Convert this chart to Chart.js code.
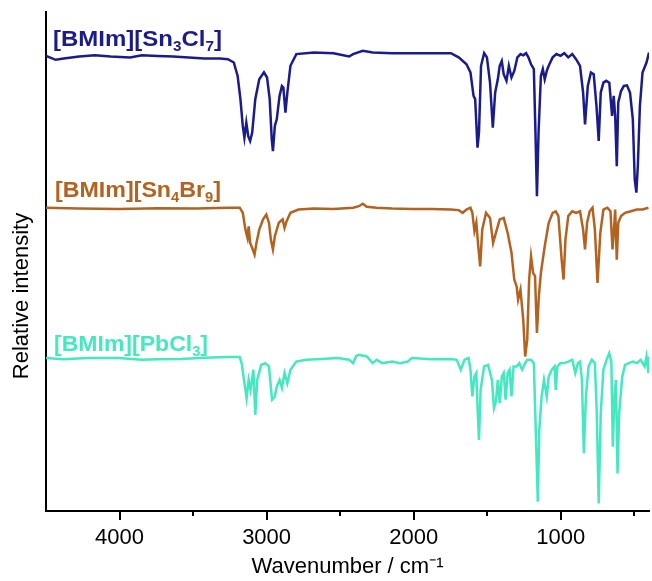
<!DOCTYPE html>
<html lang="en">
<head>
<meta charset="UTF-8">
<title>IR spectra</title>
<script src="https://cdn.jsdelivr.net/npm/chart.js"></script>
<style>
  body { margin: 0; background: #fff; }
  canvas { display: block; }
</style>
</head>
<body>
<canvas id="irChart" width="652" height="581"></canvas>
<script>
// wavenumbers (cm-1) and relative intensities (traces are offset)
const sn3cl7Wn = [4500,4434,4380,4274,4168,4061,3928,3848,3742,3636,3529,3423,3316,3263,3223,3197,3178,3162,3151,3138,3125,3112,3098,3077,3050,3018,2997,2979,2965,2957,2944,2931,2912,2896,2886,2872,2859,2838,2798,2678,2545,2439,2412,2346,2279,2146,2013,1880,1747,1694,1641,1614,1593,1582,1566,1556,1542,1521,1502,1481,1462,1446,1428,1415,1401,1388,1369,1353,1335,1316,1295,1273,1255,1236,1220,1202,1183,1172,1162,1151,1135,1122,1109,1095,1082,1055,1029,1002,976,949,922,896,869,848,835,816,795,776,757,742,728,710,691,670,651,640,630,619,609,590,571,550,529,510,497,486,476,462,444,417,400];
const sn3cl7I = [151.4,150.1,150.5,151.2,151.6,151.2,150.9,151.6,151.4,151.2,150.9,150.5,150.5,150.3,149.2,144.7,137.0,128.1,124.2,129.2,124.7,123.1,125.9,137.0,143.6,145.9,144.2,137.0,123.6,119.7,128.1,130.3,138.1,141.4,140.9,132.5,139.2,148.1,152.0,152.5,152.3,151.2,152.0,153.1,152.5,152.3,152.3,152.3,152.3,150.9,148.6,145.9,138.1,137.0,120.9,125.9,148.1,152.3,150.9,142.5,127.5,139.2,143.6,148.1,149.7,145.3,143.1,148.1,144.2,146.4,150.9,152.0,151.6,152.3,150.9,148.6,147.0,125.9,104.7,125.9,144.7,147.0,143.6,146.4,148.1,150.9,152.0,151.4,152.3,150.9,152.0,150.3,148.1,139.2,128.6,141.4,145.9,145.3,134.7,123.1,139.2,142.5,143.1,142.5,131.4,138.1,131.4,114.7,135.9,139.7,141.4,141.6,139.2,130.3,110.3,105.9,114.7,134.7,145.9,149.2,152.5];

const sn4br9Wn = [4500,4274,4008,3742,3476,3263,3183,3162,3144,3130,3122,3112,3098,3082,3069,3050,3024,3002,2984,2971,2957,2944,2917,2891,2878,2864,2838,2784,2678,2545,2412,2372,2346,2319,2252,2146,2013,1880,1747,1694,1667,1641,1614,1601,1587,1574,1561,1548,1534,1508,1481,1460,1441,1415,1388,1361,1335,1316,1300,1290,1274,1255,1242,1228,1215,1202,1188,1175,1162,1149,1135,1109,1082,1055,1034,1016,994,981,968,949,922,896,869,848,835,821,803,784,768,750,731,710,683,662,648,638,630,619,609,590,563,523,483,444,404];
const sn4br9I = [100.9,100.6,100.5,100.7,100.6,100.9,100.9,99.2,93.6,90.9,94.7,89.2,87.5,85.3,89.2,93.6,97.0,98.6,95.9,90.3,87.0,91.4,95.9,97.0,94.2,96.4,99.2,100.3,100.6,100.5,100.9,101.4,102.2,101.2,100.9,100.6,100.5,100.5,100.3,100.1,99.2,100.3,100.9,99.2,93.1,95.9,88.1,81.4,93.6,99.2,97.5,89.2,92.5,97.0,97.5,92.5,85.9,77.0,74.7,70.3,73.6,63.6,51.4,57.0,77.0,84.7,79.2,78.1,59.2,71.4,79.2,88.1,95.9,99.2,99.7,98.1,83.6,77.0,90.3,98.1,99.7,99.2,99.7,93.6,87.0,95.9,99.7,100.9,93.6,75.9,92.5,100.3,100.9,99.7,87.0,93.6,100.3,83.6,95.9,98.1,99.2,99.7,100.3,100.3,100.9];

const pbcl3Wn = [4500,4380,4221,4008,3848,3742,3582,3423,3263,3183,3170,3157,3144,3136,3122,3109,3090,3077,3064,3037,3011,2984,2963,2944,2931,2912,2896,2878,2859,2838,2798,2731,2625,2518,2439,2412,2391,2372,2319,2279,2252,2213,2173,2146,2093,2040,2013,1880,1747,1707,1680,1654,1627,1614,1601,1587,1574,1566,1556,1545,1521,1494,1468,1454,1441,1428,1415,1401,1388,1375,1361,1348,1335,1321,1300,1282,1263,1242,1228,1202,1183,1170,1156,1146,1130,1114,1095,1082,1061,1042,1034,1023,1002,976,949,922,901,883,869,856,843,829,811,789,768,755,742,728,710,688,670,656,646,635,625,614,603,582,563,537,510,483,457,430,417,404,400];
const pbcl3I = [50.9,50.5,50.9,50.9,50.3,50.5,50.6,51.0,51.2,51.2,49.2,44.7,40.3,37.5,43.6,40.3,47.0,32.0,43.6,48.6,49.2,48.1,37.0,38.1,41.4,43.6,40.9,45.9,42.5,47.0,49.7,50.3,50.6,50.9,50.3,49.2,51.6,52.0,51.4,49.2,50.3,49.2,49.5,49.7,49.2,49.7,50.9,50.5,50.6,50.3,47.0,50.3,50.9,47.0,38.1,44.7,45.9,34.7,23.6,40.3,48.1,48.6,43.6,34.2,36.4,43.6,35.9,44.7,45.9,37.0,45.9,47.0,38.1,48.1,48.1,49.2,47.0,49.2,50.3,50.3,49.2,27.0,3.1,27.0,38.1,43.6,38.1,44.7,47.0,48.1,40.3,48.1,49.2,49.2,49.7,50.3,45.9,49.2,49.7,43.6,19.2,38.1,48.1,50.3,49.2,32.5,2.5,32.5,47.0,50.3,52.5,49.7,21.4,38.1,43.6,12.5,32.5,44.7,48.6,49.2,49.7,49.2,50.3,48.1,51.4,45.9,51.4];

const seriesNames = [
  [['[BMIm][Sn', false], ['3', true], ['Cl', false], ['7', true], [']', false]],
  [['[BMIm][Sn', false], ['4', true], ['Br', false], ['9', true], [']', false]],
  [['[BMIm][PbCl', false], ['3', true], [']', false]]
];
const seriesColors = ['#1b1c8c', '#b4621f', '#45e9bf'];
const xTickValues = [4000, 3000, 2000, 1000];
const xMinorValues = [3500, 2500, 1500, 500];

const FONT = "'Liberation Sans', Arial, sans-serif";

function toPoints(wn, val) {
  return wn.map((w, i) => ({ x: w, y: val[i] }));
}

// series labels with subscripts, drawn inside the plot
const labelPlugin = {
  id: 'seriesLabels',
  afterDatasetsDraw(chart) {
    const ctx = chart.ctx;
    const spots = [[53, 46, 169], [55, 197, 166], [54, 351, 154]];
    seriesNames.forEach((parts, i) => {
      const [x, y, w] = spots[i];
      ctx.save();
      ctx.fillStyle = seriesColors[i];
      ctx.textBaseline = 'alphabetic';
      let natural = 0;
      parts.forEach(([t, sub]) => {
        ctx.font = 'bold ' + (sub ? 14 : 22) + 'px ' + FONT;
        natural += ctx.measureText(t).width;
      });
      ctx.translate(x, y);
      ctx.scale(w / natural, 1);
      let cx = 0;
      parts.forEach(([t, sub]) => {
        ctx.font = 'bold ' + (sub ? 14 : 22) + 'px ' + FONT;
        ctx.fillText(t, cx, sub ? 5 : 0);
        cx += ctx.measureText(t).width;
      });
      ctx.restore();
    });

    // y title, placed a little below the middle like the original
    ctx.save();
    ctx.translate(22, 296);
    ctx.rotate(-Math.PI / 2);
    ctx.font = '22px ' + FONT;
    ctx.fillStyle = '#000';
    ctx.textAlign = 'center';
    ctx.textBaseline = 'middle';
    ctx.fillText('Relative intensity', 0, 0);
    ctx.restore();

    // short minor ticks
    const xs = chart.scales.x;
    ctx.save();
    ctx.strokeStyle = '#000';
    ctx.lineWidth = 2;
    xMinorValues.forEach(v => {
      const px = Math.round(xs.getPixelForValue(v));
      ctx.beginPath();
      ctx.moveTo(px, xs.top);
      ctx.lineTo(px, xs.top + 5);
      ctx.stroke();
    });
    ctx.restore();
  }
};

const datasets = [
  toPoints(sn3cl7Wn, sn3cl7I),
  toPoints(sn4br9Wn, sn4br9I),
  toPoints(pbcl3Wn, pbcl3I)
].map((pts, i) => ({
  label: seriesNames[i].map(p => p[0]).join(''),
  data: pts,
  borderColor: seriesColors[i],
  borderWidth: 2.5,
  pointRadius: 0,
  tension: 0,
  fill: false
}));

new Chart(document.getElementById('irChart'), {
  type: 'line',
  data: { datasets: datasets },
  options: {
    responsive: false,
    animation: false,
    layout: { padding: { top: 12, right: 3, left: 0, bottom: 0 } },
    plugins: { legend: { display: false }, tooltip: { enabled: false } },
    scales: {
      x: {
        type: 'linear',
        reverse: true,
        min: 400,
        max: 4500,
        afterBuildTicks: s => { s.ticks = xTickValues.map(v => ({ value: v })); },
        afterFit: s => { s.height = 70; },
        border: { display: true, color: '#000', width: 2 },
        grid: {
          drawOnChartArea: false,
          tickLength: 9,
          lineWidth: 2,
          tickColor: '#000'
        },
        ticks: {
          autoSkip: false,
          maxRotation: 0,
          padding: 5,
          color: '#000',
          font: { family: FONT, size: 22 },
          callback: v => String(v)
        },
        title: {
          display: true,
          text: 'Wavenumber / cm⁻¹',
          color: '#000',
          font: { family: FONT, size: 22 },
          padding: { top: 0, bottom: 1 }
        }
      },
      y: {
        min: 0,
        max: 166,
        afterFit: s => { s.width = 46; },
        border: { display: true, color: '#000', width: 2 },
        grid: { display: false },
        ticks: { display: false }
      }
    }
  },
  plugins: [labelPlugin]
});
</script>
</body>
</html>
